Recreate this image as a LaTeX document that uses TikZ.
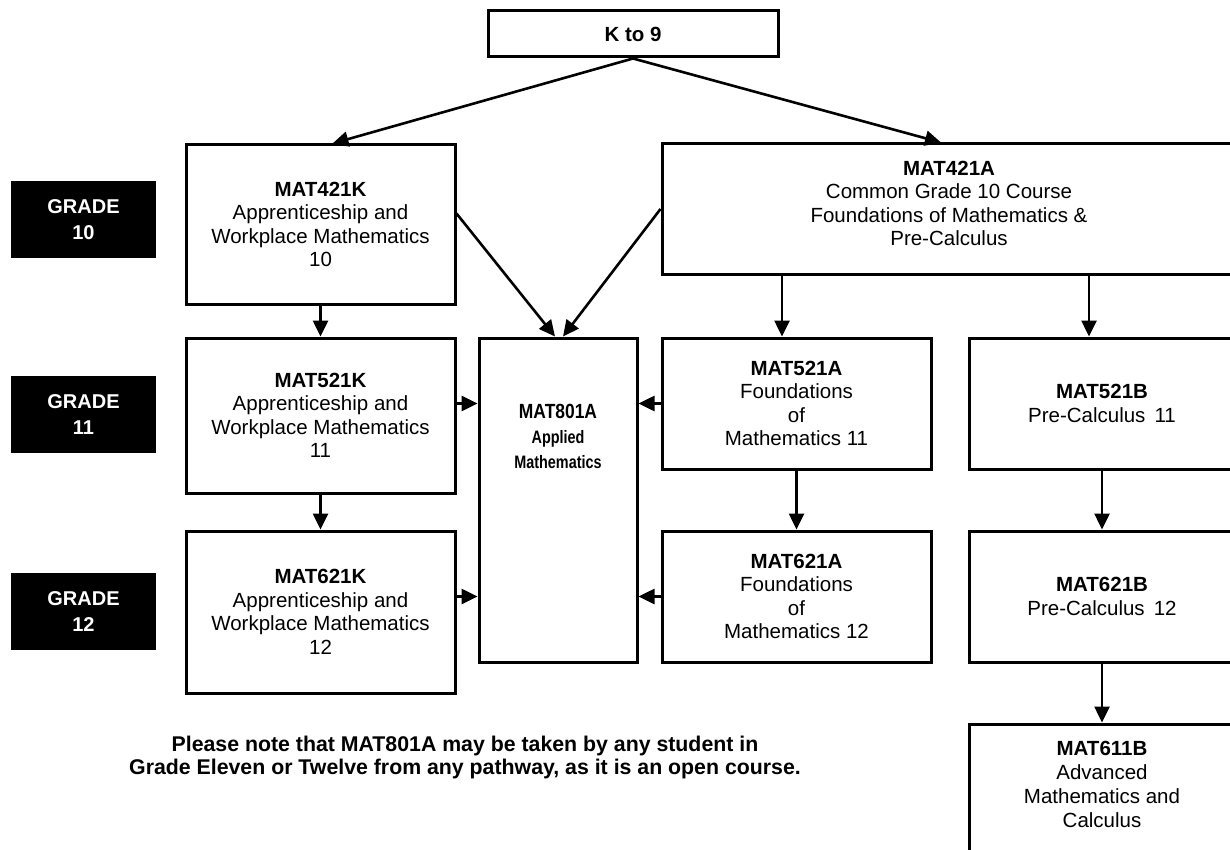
\documentclass[tikz,border=0pt]{standalone}
\usepackage{fontspec}
\usepackage{graphicx}
\setmainfont{Liberation Sans}
\usetikzlibrary{arrows.meta,calc}

\begin{document}
\begin{tikzpicture}[x=1pt,y=-1pt,
  box/.style={draw,line width=3pt,align=center,inner sep=0pt,
    font=\fontsize{20.5}{23.5}\selectfont},
  course/.style={box,minimum width=269pt},
  grade/.style={fill=black,text=white,align=center,inner sep=0pt,
    minimum width=145pt,minimum height=77pt,
    font=\bfseries\fontsize{20}{26}\selectfont},
  arr/.style={line width=2.6pt,-{Triangle[length=16pt,width=15pt]}}]
  \useasboundingbox (0,0) rectangle (1230,850);
  \clip (0,0) rectangle (1230,850);

  % top
  \node[box,minimum width=290pt,minimum height=46pt,
    font=\bfseries\fontsize{20.5}{23.5}\selectfont] (k9) at (633,34) {K to 9};

  % grade labels
  \node[grade] (g10) at (83.5,219.5) {GRADE\\10};
  \node[grade] (g11) at (83.5,414.5) {GRADE\\11};
  \node[grade] (g12) at (83.5,611.5) {GRADE\\12};

  % apprenticeship pathway
  \node[course,minimum height=159pt] (a421k) at (320.5,224.5)
    {\textbf{MAT421K}\\Apprenticeship and\\Workplace Mathematics\\10};
  \node[course,minimum height=155pt] (a521k) at (320.5,415.5)
    {\textbf{MAT521K}\\Apprenticeship and\\Workplace Mathematics\\11};
  \node[course,minimum height=162pt] (a621k) at (320.5,612)
    {\textbf{MAT621K}\\Apprenticeship and\\Workplace Mathematics\\12};

  % applied mathematics
  \node[box,minimum width=158pt,minimum height=324pt] (a801) at (558,500) {};
  \node[align=center,inner sep=0pt,font=\bfseries\fontsize{18}{25}\selectfont]
    (t801) at (558,436) {\scalebox{0.85}[1]{\fontsize{20.5}{25}\selectfont MAT801A}\\
    \scalebox{0.8}[1]{Applied}\\\scalebox{0.8}[1]{Mathematics}};

  % common grade 10
  \node[box,minimum width=574pt,minimum height=130pt] (a421a) at (949,209)
    {\textbf{MAT421A}\\Common Grade 10 Course\\Foundations of Mathematics \&\\Pre-Calculus\\[-12pt]};

  % foundations pathway
  \node[course,minimum height=131pt] (a521a) at (796.5,403.5)
    {\textbf{MAT521A}\\Foundations\\of\\Mathematics 11};
  \node[course,minimum height=131pt] (a621a) at (796.5,596.5)
    {\textbf{MAT621A}\\Foundations\\of\\Mathematics 12};

  % pre-calculus pathway
  \node[box,minimum width=266pt,minimum height=131pt] (a521b) at (1102,403.5)
    {\textbf{MAT521B}\\Pre-Calculus\, 11};
  \node[box,minimum width=266pt,minimum height=131pt] (a621b) at (1102,596.5)
    {\textbf{MAT621B}\\Pre-Calculus\, 12};
  \node[box,minimum width=266pt,minimum height=152pt] (a611b) at (1102,800) {};
  \node[align=center,inner sep=0pt,font=\fontsize{20.5}{24}\selectfont]
    (t611b) at (1102,784) {\textbf{MAT611B}\\Advanced\\Mathematics and\\Calculus};

  % note
  \node[align=center,inner sep=0pt,font=\bfseries\fontsize{21.3}{23}\selectfont]
    (note) at (465,757) {Please note that MAT801A may be taken by any student in\\
    Grade Eleven or Twelve from any pathway, as it is an open course.};

  % arrows
  \draw[arr] (k9.south) -- ($(a421k.north)+(12,0)$);
  \draw[arr] (k9.south) -- ($(a421a.north)+(-8,0)$);
  \draw[arr] (a421k) -- (a521k);
  \draw[arr] (a521k) -- (a621k);
  \draw[arr] ($(a421k.east)+(0,-11)$) -- ($(a801.north)+(-3,0)$);
  \draw[arr] (a421a.west) -- ($(a801.north)+(5,0)$);
  \draw[arr] (a421a.south -| 782,0) -- (a521a.north -| 782,0);
  \draw[arr] (a421a.south -| 1089,0) -- (a521b.north -| 1089,0);
  \draw[arr] (a521a) -- (a621a);
  \draw[arr] (a521b) -- (a621b);
  \draw[arr] (a621b) -- (a611b);
  \draw[arr] (a521k.east |- a521a) -- (a801.west |- a521a);
  \draw[arr] (a621k.east |- a621a) -- (a801.west |- a621a);
  \draw[arr] (a521a) -- (a801.east |- a521a);
  \draw[arr] (a621a) -- (a801.east |- a621a);
\end{tikzpicture}
\end{document}
